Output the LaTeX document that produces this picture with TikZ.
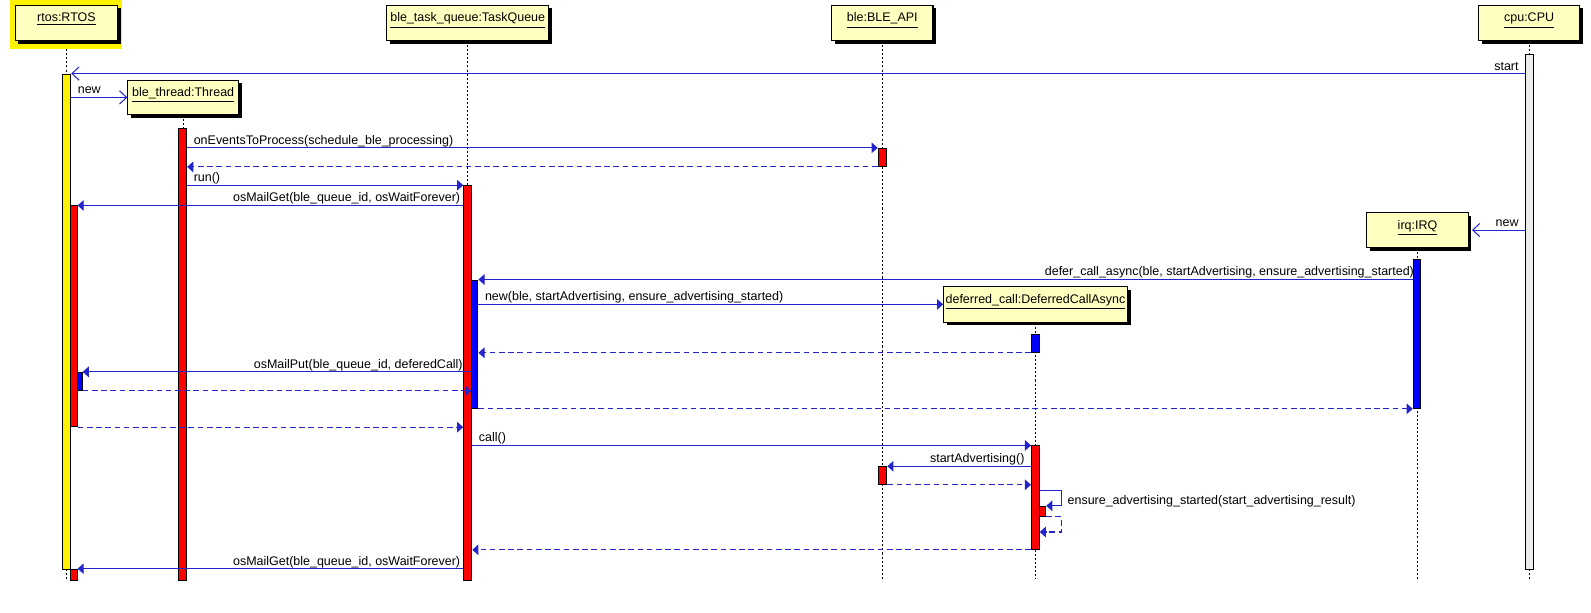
\documentclass[tikz,border=0pt]{standalone}
\usepackage{fontspec}
\setmainfont{Liberation Sans}
\usetikzlibrary{arrows.meta,fit,shadows}

\definecolor{msgblue}{RGB}{36,36,204}
\definecolor{objyellow}{RGB}{255,255,192}
\definecolor{actgray}{RGB}{236,236,236}

\begin{document}
\begin{tikzpicture}[x=0.5pt,y=-0.5pt,font=\fontsize{6.15}{7}\selectfont]
   \tikzstyle{obj}=[draw, fill=objyellow, line width=0.5pt, inner sep=0pt, minimum height=17.5pt, text height=8.25pt, text depth=9.25pt, drop shadow={fill=black, opacity=1, shadow xshift=1.6pt, shadow yshift=-1.6pt}]
   \tikzstyle{act}=[draw, line width=0.5pt, inner sep=0pt]
   \tikzstyle{life}=[line width=0.35pt, dash pattern=on 1pt off 1pt]
   \tikzstyle{call}=[msgblue, line width=0.5pt, -{Triangle[length=3pt,width=5.2pt]}]
   \tikzstyle{ret}=[call, dash pattern=on 2.8pt off 1.75pt]
   \tikzstyle{create}=[msgblue, line width=0.5pt, -{Straight Barb[length=3.5pt,width=6.5pt]}]
   \tikzstyle{txr}=[pos=0, anchor=base west, inner sep=0pt, xshift=3pt, yshift=1.75pt, text=black]
   \tikzstyle{txl}=[pos=0, anchor=base east, inner sep=0pt, xshift=-3pt, yshift=1.75pt, text=black]

\useasboundingbox (0,0) rectangle (1568,604);
\fill[yellow] (10,0) rectangle (120,48);

\node[obj, minimum width=50.5pt] (rtos) at (65.5,22.5) {\underline{rtos:RTOS}};
\node[obj, minimum width=54.5pt, minimum height=17pt, text height=8pt, text depth=9pt] (thr) at (180.5,96) {\underline{ble\_thread:Thread}};
\node[obj, minimum width=80pt] (tq) at (461,22.5) {\underline{ble\_task\_queue:TaskQueue}};
\node[obj, minimum width=50pt] (api) at (869.5,22.5) {\underline{ble:BLE\_API}};
\node[obj, minimum width=90.5pt] (dc) at (1020.5,300) {\underline{deferred\_call:DeferredCallAsync}};
\node[obj, minimum width=50pt] (irq) at (1397,226.7) {\underline{irq:IRQ}};
\node[obj, minimum width=50pt] (cpu) at (1507,22.5) {\underline{cpu:CPU}};

\coordinate (bottom) at (0,571);
\draw[life] ([yshift=-4pt]rtos.south) -- (rtos |- bottom);
\draw[life] (thr.south) -- (thr |- bottom);
\draw[life] (tq.south) -- (tq |- bottom);
\draw[life] (api.south) -- (api |- bottom);
\draw[life] (dc.south) -- (dc |- bottom);
\draw[life] (irq.south) -- (irq |- bottom);
\draw[life] (cpu.south) -- (cpu |- bottom);

\node[act, fill=yellow, fit={(61.6,73) (69.7,561)}] (rtosA) {};
\node[act, fill=red, fit={(69.7,203) (76,420.5)}] (rtosR1) {};
\node[act, fill=blue, fit={(76,367) (81,384.7)}] (rtosB) {};
\node[act, fill=red, fit={(69.7,561) (76,572.3)}] (rtosR2) {};
\node[act, fill=red, fit={(176,127) (184,572)}] (thrR) {};
\node[act, fill=red, fit={(457,183) (465,572)}] (tqR) {};
\node[act, fill=blue, fit={(465,276) (471,402.4)}] (tqB) {};
\node[act, fill=red, fit={(865.5,146.2) (874,164)}] (apiR1) {};
\node[act, fill=red, fit={(865.5,460) (874,477.3)}] (apiR2) {};
\node[act, fill=blue, fit={(1016.6,329.5) (1024.2,347.2)}] (dcB) {};
\node[act, fill=red, fit={(1016.6,439.5) (1024.2,541.4)}] (dcR) {};
\node[act, fill=red, fit={(1024.2,499) (1030.6,508.8)}] (dcR2) {};
\node[act, fill=blue, fit={(1392.8,256.2) (1400.4,402.4)}] (irqB) {};
\node[act, fill=actgray, fit={(1503.6,53.5) (1511.1,561)}] (cpuA) {};

\draw[create] (cpuA.west |- rtosA.north) -- node[txl]{start} (rtosA.north east);
\draw[create] (rtosA.east |- thr.west) -- node[txr]{new} (thr.west);
\draw[call] (thrR.east |- apiR1.north) -- node[txr]{onEventsToProcess(schedule\_ble\_processing)} (apiR1.north west);
\draw[ret] (apiR1.south west) -- (thrR.east |- apiR1.south);
\draw[call] (thrR.east |- tqR.north) -- node[txr]{run()} (tqR.north west);
\draw[call] (tqR.west |- rtosR1.north) -- node[txl, xshift=1.75pt]{osMailGet(ble\_queue\_id, osWaitForever)} (rtosR1.north east);
\draw[create] (cpuA.west |- irq.east) -- node[txl]{new} ([xshift=1.6pt]irq.east);
\draw[call] (irqB.west |- tqB.north) -- node[txl, xshift=3.85pt]{defer\_call\_async(ble, startAdvertising, ensure\_advertising\_started)} (tqB.north east);
\draw[call] (tqB.east |- dc.west) -- node[txr]{new(ble, startAdvertising, ensure\_advertising\_started)} (dc.west);
\draw[ret] (dcB.south west) -- (tqB.east |- dcB.south);
\draw[call] (tqB.west |- rtosB.north) -- node[txl, xshift=-1pt]{osMailPut(ble\_queue\_id, deferedCall)} (rtosB.north east);
\draw[ret] (rtosB.south east) -- (tqB.west |- rtosB.south);
\draw[ret] (tqB.south east) -- (irqB.south west);
\draw[ret] (rtosR1.south east) -- (tqR.west |- rtosR1.south);
\draw[call] (tqR.east |- dcR.north) -- node[txr]{call()} (dcR.north west);
\draw[call] (dcR.west |- apiR2.north) -- node[txl]{startAdvertising()} (apiR2.north east);
\draw[ret] (apiR2.south east) -- (dcR.west |- apiR2.south);
\draw[call] (dcR2.north -| dcR.east) ++(0,-15) -- ++(21,0) node[anchor=base west, inner sep=0pt, xshift=3pt, yshift=-6.75pt, text=black]{ensure\_advertising\_started(start\_advertising\_result)} |- (dcR2.north east);
\draw[ret] (dcR2.south east) -- ++(15,0) -- ++(0,15) -- ++(-21.4,0);
\draw[ret] (dcR.south west) -- (tqR.east |- dcR.south);
\draw[call] (tqR.west |- rtosR2.north) -- node[txl, xshift=1.75pt]{osMailGet(ble\_queue\_id, osWaitForever)} (rtosR2.north east);

\end{tikzpicture}
\end{document}
